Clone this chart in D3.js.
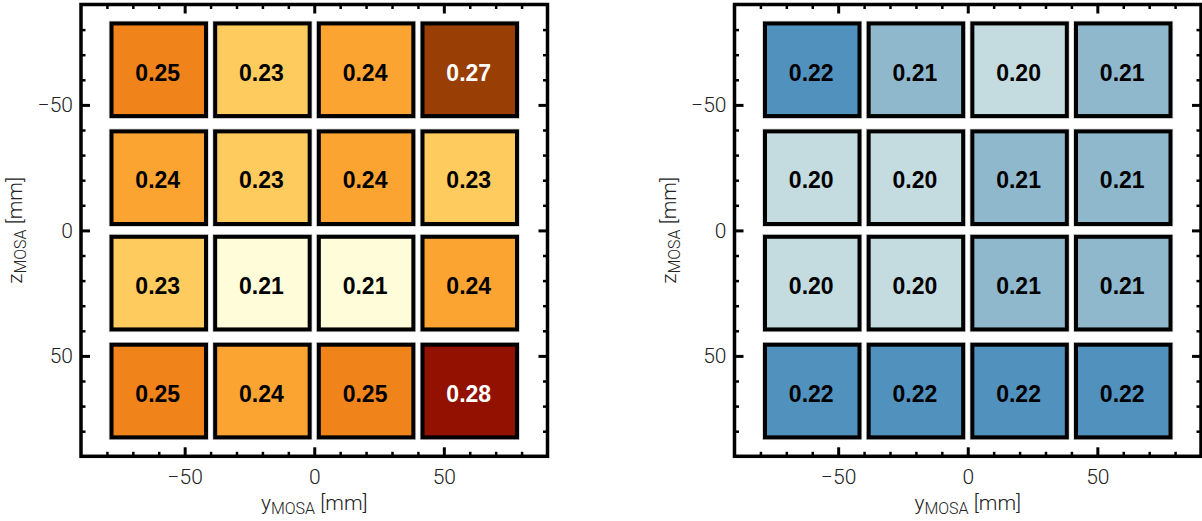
<!DOCTYPE html>
<html>
<head>
<meta charset="utf-8">
<script src="https://cdn.jsdelivr.net/npm/d3@7"></script>
<style>
  html, body { margin: 0; padding: 0; background: #fff; }
  svg { display: block; }
</style>
</head>
<body>
<svg id="chart" width="1202" height="521"></svg>
<script>
// ---- data ----
const yCenters = [-60, -20, 20, 60];          // column centres, mm
const zCenters = [-64, -21, 21, 64];          // row centres, mm (top to bottom)
const cellWidthMM = 38;
const cellHeightMM = 38.5;

const leftValues = [
  [0.25, 0.23, 0.24, 0.27],
  [0.24, 0.23, 0.24, 0.23],
  [0.23, 0.21, 0.21, 0.24],
  [0.25, 0.24, 0.25, 0.28]
];
const rightValues = [
  [0.22, 0.21, 0.20, 0.21],
  [0.20, 0.20, 0.21, 0.21],
  [0.20, 0.20, 0.21, 0.21],
  [0.22, 0.22, 0.22, 0.22]
];

const leftLevels = [0.21, 0.23, 0.24, 0.25, 0.27, 0.28];
const leftColors = ["#fffdd9", "#fecb5f", "#fba432", "#f0841a", "#993e04", "#921100"];
const rightLevels = [0.20, 0.21, 0.22];
const rightColors = ["#c4dbdf", "#8fb8cd", "#5191bd"];

const majorTicks = [-50, 0, 50];
const minorTicks = [-80, -70, -60, -40, -30, -20, -10, 10, 20, 30, 40, 60, 70, 80];
const axisDomain = [-90, 90];

// ---- drawing ----
const svg = d3.select("#chart");
const frameTop = 4.5, frameBottom = 456.3, frameW = 466.5;
const tickFont = "Roboto, 'Liberation Sans', sans-serif";

function panel(x0, values, levels, colors) {
  const g = svg.append("g");
  const x = d3.scaleLinear().domain(axisDomain).range([x0, x0 + frameW]);
  const y = d3.scaleLinear().domain(axisDomain).range([frameTop, frameBottom]);
  const color = d3.scaleOrdinal().domain(levels).range(colors);

  const cells = [];
  values.forEach((row, ri) => row.forEach((v, ci) => cells.push({v, yc: yCenters[ci], zc: zCenters[ri]})));

  const sw = 4;
  const cg = g.selectAll("g.cell").data(cells).join("g").attr("class", "cell");
  cg.each(function(d) {
    const s = d3.select(this);
    const left = x(d.yc - cellWidthMM / 2), right = x(d.yc + cellWidthMM / 2);
    const top = y(d.zc - cellHeightMM / 2), bottom = y(d.zc + cellHeightMM / 2);
    s.append("rect")
      .attr("x", left - 0.3).attr("y", top - 0.3)
      .attr("width", right - left + 0.6).attr("height", bottom - top + 0.6)
      .attr("fill", "none").attr("stroke", "#cfcfcf").attr("stroke-width", 0.8);
    s.append("rect")
      .attr("x", left + sw / 2).attr("y", top + sw / 2)
      .attr("width", right - left - sw).attr("height", bottom - top - sw)
      .attr("fill", color(d.v)).attr("stroke", "#000").attr("stroke-width", sw);
    s.append("text")
      .attr("x", x(d.yc) - 1).attr("y", y(d.zc) + 10.8)
      .attr("text-anchor", "middle")
      .attr("font-family", "'Liberation Sans', Arial, sans-serif")
      .attr("font-weight", "bold")
      .attr("font-size", 23)
      .attr("fill", d.v >= 0.27 ? "#fff" : "#000")
      .text(d3.format(".2f")(d.v));
  });

  // frame
  g.append("rect")
    .attr("x", x0).attr("y", frameTop)
    .attr("width", frameW).attr("height", frameBottom - frameTop)
    .attr("fill", "none").attr("stroke", "#000").attr("stroke-width", 3.5);

  function styleAxis(sel, width) {
    sel.select(".domain").remove();
    sel.selectAll(".tick line").attr("stroke", "#000").attr("stroke-width", width);
    sel.selectAll(".tick text")
      .attr("font-family", tickFont).attr("font-weight", 300)
      .attr("font-size", 21).attr("fill", "#222");
  }

  // bottom
  g.append("g").attr("transform", `translate(0,${frameBottom})`)
    .call(d3.axisBottom(x).tickValues(majorTicks).tickSize(-9).tickPadding(12.5))
    .call(s => styleAxis(s, 3));
  g.append("g").attr("transform", `translate(0,${frameBottom})`)
    .call(d3.axisBottom(x).tickValues(minorTicks).tickSize(-4.5).tickFormat(""))
    .call(s => styleAxis(s, 2.5));
  // top
  g.append("g").attr("transform", `translate(0,${frameTop})`)
    .call(d3.axisTop(x).tickValues(majorTicks).tickSize(-9).tickFormat(""))
    .call(s => styleAxis(s, 3));
  g.append("g").attr("transform", `translate(0,${frameTop})`)
    .call(d3.axisTop(x).tickValues(minorTicks).tickSize(-4.5).tickFormat(""))
    .call(s => styleAxis(s, 2.5));
  // left
  g.append("g").attr("transform", `translate(${x0},0)`)
    .call(d3.axisLeft(y).tickValues(majorTicks).tickSize(-9).tickPadding(8))
    .call(s => styleAxis(s, 3));
  g.append("g").attr("transform", `translate(${x0},0)`)
    .call(d3.axisLeft(y).tickValues(minorTicks).tickSize(-4.5).tickFormat(""))
    .call(s => styleAxis(s, 2.5));
  // right
  g.append("g").attr("transform", `translate(${x0 + frameW},0)`)
    .call(d3.axisRight(y).tickValues(majorTicks).tickSize(-9).tickFormat(""))
    .call(s => styleAxis(s, 3));
  g.append("g").attr("transform", `translate(${x0 + frameW},0)`)
    .call(d3.axisRight(y).tickValues(minorTicks).tickSize(-4.5).tickFormat(""))
    .call(s => styleAxis(s, 2.5));

  // axis titles
  const xt = g.append("text")
    .attr("x", x(0)).attr("y", 510)
    .attr("text-anchor", "middle")
    .attr("font-family", tickFont).attr("font-weight", 300)
    .attr("font-size", 21).attr("fill", "#222");
  xt.append("tspan").text("y");
  xt.append("tspan").attr("font-size", 16).attr("dy", 4).text("MOSA");
  xt.append("tspan").attr("dy", -4).text(" [mm]");

  const yt = g.append("text")
    .attr("transform", `translate(${x0 - 59},${y(0)}) rotate(-90)`)
    .attr("text-anchor", "middle")
    .attr("font-family", tickFont).attr("font-weight", 300)
    .attr("font-size", 21).attr("fill", "#222");
  yt.append("tspan").text("z");
  yt.append("tspan").attr("font-size", 16).attr("dy", 4).text("MOSA");
  yt.append("tspan").attr("dy", -4).text(" [mm]");
}

panel(81, leftValues, leftLevels, leftColors);
panel(734.5, rightValues, rightLevels, rightColors);
</script>
</body>
</html>
